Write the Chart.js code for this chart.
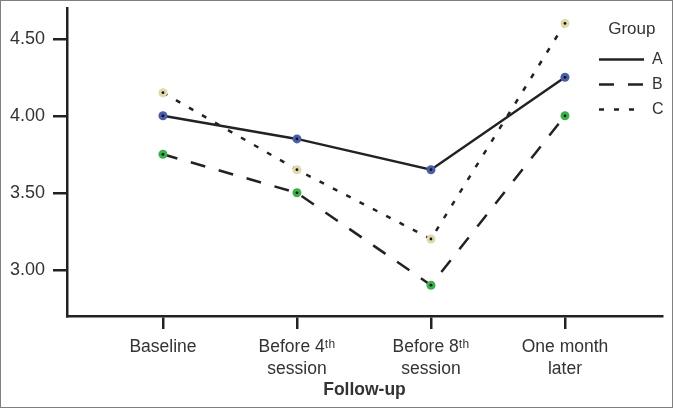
<!DOCTYPE html>
<html>
<head>
<meta charset="utf-8">
<script src="https://cdn.jsdelivr.net/npm/chart.js@4"></script>
<style>
  html, body { margin: 0; padding: 0; background: #fff; }
  #wrap { width: 673px; height: 408px; box-sizing: border-box; border: 1px solid #808080; }
  canvas { display: block; }
</style>
</head>
<body>
<div id="wrap"><canvas id="chart" width="671" height="406"></canvas></div>
<script>
const followUp = [['Baseline'], ['Before 4ᵗʰ', 'session'], ['Before 8ᵗʰ', 'session'], ['One month', 'later']]
const xPos = [0, 1, 2, 3]
const groupA = [4.00, 3.85, 3.65, 4.25]
const groupB = [3.75, 3.50, 2.90, 4.00]
const groupC = [4.15, 3.65, 3.20, 4.60]
const yTicks = [3.00, 3.50, 4.00, 4.50]

const ink = '#222'
const textColor = '#333'

const pts = vals => vals.map((y, i) => ({ x: xPos[i], y }))

const line = (label, vals, dash, dot) => ({
  label,
  data: pts(vals),
  borderColor: ink,
  borderWidth: 2.5,
  borderDash: dash,
  pointRadius: 4.5,
  pointHoverRadius: 4.5,
  pointBackgroundColor: dot,
  pointBorderWidth: 0,
  tension: 0
})

// small black dot in the middle of every marker
const centreDots = {
  id: 'centreDots',
  afterDatasetsDraw(chart) {
    const ctx = chart.ctx
    chart.data.datasets.forEach((ds, i) => {
      chart.getDatasetMeta(i).data.forEach(p => {
        ctx.beginPath()
        ctx.arc(p.x, p.y, 1.4, 0, Math.PI * 2)
        ctx.fillStyle = '#111'
        ctx.fill()
      })
    })
  }
}

// legend sits inside the plot, top right
const moveLegend = {
  id: 'moveLegend',
  afterLayout(chart) {
    const lg = chart.legend
    const w = lg.width, h = lg.height
    lg.left = 589
    lg.right = lg.left + w
    lg.top = 20
    lg.bottom = lg.top + h
  }
}

const noEdgePad = s => { s.paddingTop = 0; s.paddingBottom = 0; s.paddingLeft = 0; s.paddingRight = 0 }

new Chart(document.getElementById('chart'), {
  type: 'line',
  data: {
    datasets: [
      line('A', groupA, [], '#4a5da8'),
      line('B', groupB, [15, 14], '#3cb04b'),
      line('C', groupC, [5, 10], '#e0d9ae')
    ]
  },
  plugins: [centreDots, moveLegend],
  options: {
    responsive: false,
    devicePixelRatio: 1,
    animation: false,
    layout: { padding: { top: 7, right: 10, left: 0, bottom: 0 } },
    plugins: {
      tooltip: { enabled: false },
      legend: {
        position: 'chartArea',
        align: 'start',
        title: {
          display: true,
          text: 'Group',
          color: textColor,
          font: { family: 'Liberation Sans', size: 17 },
          padding: { top: 0, bottom: 1 }
        },
        labels: {
          color: textColor,
          font: { family: 'Liberation Sans', size: 16 },
          usePointStyle: true,
          pointStyle: 'line',
          pointStyleWidth: 45,
          padding: 9,
          generateLabels: chart => chart.data.datasets.map((ds, i) => ({
            text: ds.label,
            fillStyle: ink,
            strokeStyle: ink,
            lineWidth: 2.5,
            lineDash: ds.borderDash,
            pointStyle: 'line',
            hidden: false,
            datasetIndex: i
          }))
        }
      }
    },
    scales: {
      x: {
        type: 'linear',
        min: -0.716,
        max: 3.724,
        afterBuildTicks: s => { s.ticks = xPos.map(v => ({ value: v })) },
        afterFit: s => { s.height = 91; noEdgePad(s) },
        ticks: {
          callback: v => followUp[v],
          color: textColor,
          font: { family: 'Liberation Sans', size: 17.5, lineHeight: 1.26 },
          padding: 7,
          maxRotation: 0,
          autoSkip: false
        },
        grid: { drawOnChartArea: false, drawTicks: true, tickLength: 13, color: ink, lineWidth: 2.5 },
        border: { display: true, color: ink, width: 2.5 },
        title: {
          display: true,
          text: 'Follow-up',
          color: textColor,
          font: { family: 'Liberation Sans', size: 17.5, weight: 'bold' },
          padding: { top: 0, bottom: 6 }
        }
      },
      y: {
        min: 2.70,
        max: 4.70,
        afterBuildTicks: s => { s.ticks = yTicks.map(v => ({ value: v })) },
        afterFit: s => { s.width = 66; noEdgePad(s) },
        ticks: {
          callback: v => v.toFixed(2),
          color: textColor,
          font: { family: 'Liberation Sans', size: 18 },
          padding: 8
        },
        grid: { drawOnChartArea: false, drawTicks: true, tickLength: 14, color: ink, lineWidth: 2.5 },
        border: { display: true, color: ink, width: 2.5 }
      }
    }
  }
})
</script>
</body>
</html>
